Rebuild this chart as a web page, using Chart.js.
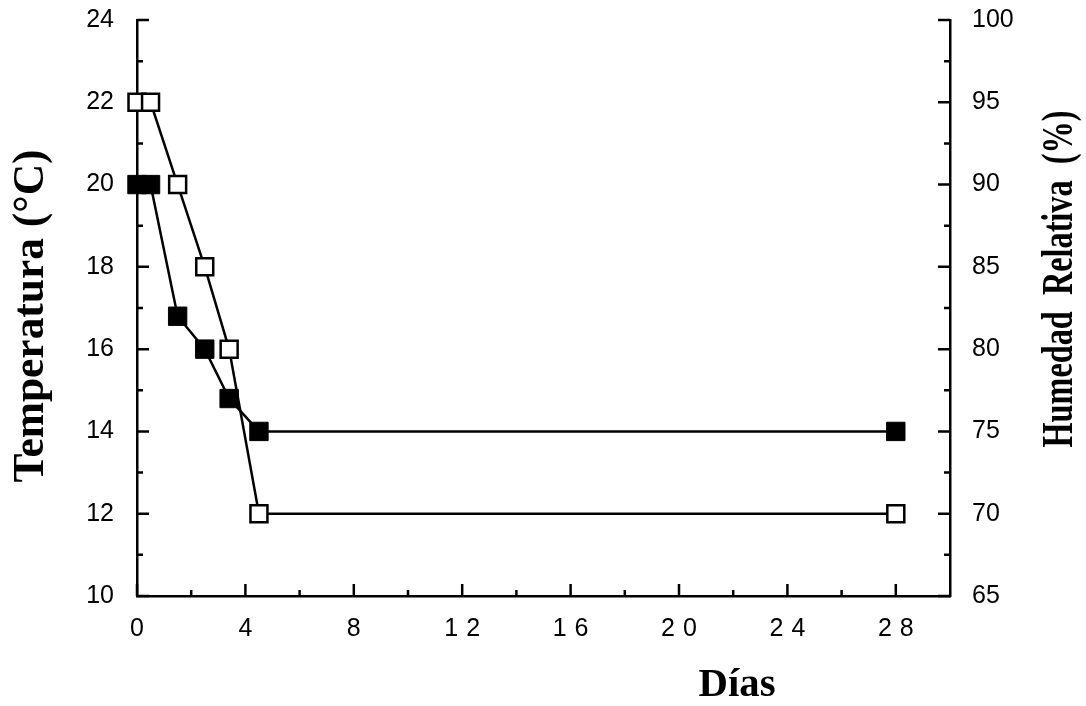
<!DOCTYPE html>
<html>
<head>
<meta charset="utf-8">
<script src="https://cdn.jsdelivr.net/npm/chart.js@4.4.0/dist/chart.umd.min.js"></script>
<style>
  html, body { margin: 0; background: #fff; }
  canvas { display: block; }
</style>
</head>
<body>
<canvas id="chart" width="1086" height="706"></canvas>
<script>
var dias = [0, 0.5, 1.5, 2.5, 3.4, 4.5, 28];
var temperatura = [20, 20, 16.8, 16, 14.8, 14, 14];
var humedad = [95, 95, 90, 85, 80, 70, 70];
var diasTicks = [0, 4, 8, 12, 16, 20, 24, 28];
var tempTicks = [10, 12, 14, 16, 18, 20, 22, 24];
var humTicks = [65, 70, 75, 80, 85, 90, 95, 100];

function pts(ys) {
  return dias.map(function(d, i) { return { x: d, y: ys[i] }; });
}

// draw text squeezed/stretched to a given width
function fitText(ctx, text, x, y, width, font, rot) {
  ctx.save();
  ctx.translate(x, y);
  if (rot) ctx.rotate(rot);
  ctx.font = font;
  var w = ctx.measureText(text).width;
  ctx.scale(width / w, 1);
  ctx.textAlign = 'center';
  ctx.textBaseline = 'alphabetic';
  ctx.fillStyle = '#000';
  ctx.fillText(text, 0, 0);
  ctx.restore();
}

// fixed axis box sizes so the plot area lands where the original's does
function fixWidth(w) {
  return function(s) {
    s.width = w;
    s.paddingTop = 0;
    s.paddingBottom = 0;
  };
}

var decor = {
  id: 'decor',
  beforeDatasetsDraw: function(chart) {
    var ctx = chart.ctx, a = chart.chartArea;
    var x = chart.scales.x, y = chart.scales.y, y1 = chart.scales.y1;
    ctx.save();
    ctx.strokeStyle = '#000';
    ctx.lineWidth = 2.5;
    ctx.beginPath();
    // left axis, inward ticks
    tempTicks.forEach(function(v, i) {
      var p = y.getPixelForValue(v);
      ctx.moveTo(a.left, p); ctx.lineTo(a.left + 12, p);
      if (i > 0) {
        var m = y.getPixelForValue((v + tempTicks[i - 1]) / 2);
        ctx.moveTo(a.left, m); ctx.lineTo(a.left + 6, m);
      }
    });
    // right axis
    humTicks.forEach(function(v, i) {
      var p = y1.getPixelForValue(v);
      ctx.moveTo(a.right, p); ctx.lineTo(a.right - 12, p);
      if (i > 0) {
        var m = y1.getPixelForValue((v + humTicks[i - 1]) / 2);
        ctx.moveTo(a.right, m); ctx.lineTo(a.right - 6, m);
      }
    });
    // bottom axis
    diasTicks.forEach(function(v, i) {
      var p = x.getPixelForValue(v);
      ctx.moveTo(p, a.bottom); ctx.lineTo(p, a.bottom - 12);
      if (i > 0) {
        var m = x.getPixelForValue((v + diasTicks[i - 1]) / 2);
        ctx.moveTo(m, a.bottom); ctx.lineTo(m, a.bottom - 6);
      }
    });
    ctx.stroke();
    ctx.restore();
  },
  afterDraw: function(chart) {
    var ctx = chart.ctx, a = chart.chartArea, x = chart.scales.x;
    // x tick labels, widely spaced digits
    ctx.save();
    ctx.font = '25px "Liberation Sans"';
    ctx.fillStyle = '#000';
    ctx.textAlign = 'left';
    ctx.textBaseline = 'middle';
    var gap = 8;
    diasTicks.forEach(function(v) {
      var s = String(v);
      var ws = s.split('').map(function(c) { return ctx.measureText(c).width; });
      var total = ws.reduce(function(t, w) { return t + w; }, 0) + gap * (s.length - 1);
      var cx = x.getPixelForValue(v) - total / 2;
      s.split('').forEach(function(c, k) {
        ctx.fillText(c, cx, a.bottom + 33);
        cx += ws[k] + gap;
      });
    });
    ctx.restore();
    // axis titles
    fitText(ctx, 'Temperatura (°C)', 43, 316, 333, 'bold 44px "Liberation Serif"', -Math.PI / 2);
    fitText(ctx, 'Humedad  Relativa  (%)', 1072, 279, 337, 'bold 44px "Liberation Serif"', -Math.PI / 2);
    fitText(ctx, 'Días', 737, 696, 77, 'bold 41px "Liberation Serif"', 0);
  }
};

Chart.defaults.font.family = '"Liberation Sans", Arial, sans-serif';
Chart.defaults.color = '#000';

new Chart(document.getElementById('chart'), {
  type: 'line',
  data: {
    datasets: [{
      label: 'Temperatura',
      data: pts(temperatura),
      yAxisID: 'y',
      borderColor: '#000',
      borderWidth: 2.5,
      pointStyle: 'rect',
      pointRadius: 13,
      pointBackgroundColor: '#000',
      pointBorderColor: '#000',
      pointBorderWidth: 1,
      tension: 0,
      clip: false
    }, {
      label: 'Humedad Relativa',
      data: pts(humedad),
      yAxisID: 'y1',
      borderColor: '#000',
      borderWidth: 2.5,
      pointStyle: 'rect',
      pointRadius: 12,
      pointBackgroundColor: '#fff',
      pointBorderColor: '#000',
      pointBorderWidth: 2.5,
      tension: 0,
      clip: false
    }]
  },
  options: {
    responsive: false,
    animation: false,
    layout: { padding: { top: 20, left: 0, right: 0, bottom: 0 } },
    plugins: { legend: { display: false }, tooltip: { enabled: false } },
    scales: {
      x: {
        type: 'linear',
        min: 0, max: 30,
        grid: { display: false },
        border: { display: true, color: '#000', width: 2.5 },
        ticks: { display: false },
        afterFit: function(s) { s.height = 110; s.paddingLeft = 0; s.paddingRight = 0; }
      },
      y: {
        position: 'left',
        min: 10, max: 24,
        grid: { display: false },
        border: { display: true, color: '#000', width: 2.5 },
        ticks: { stepSize: 2, padding: 15, font: { size: 25 } },
        afterFit: fixWidth(137)
      },
      y1: {
        position: 'right',
        min: 65, max: 100,
        grid: { display: false },
        border: { display: true, color: '#000', width: 2.5 },
        ticks: { stepSize: 5, padding: 14, font: { size: 25 } },
        afterFit: fixWidth(136)
      }
    }
  },
  plugins: [decor]
});
</script>
</body>
</html>
